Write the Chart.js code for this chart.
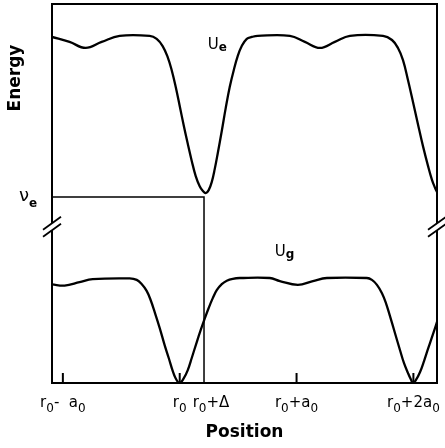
<!DOCTYPE html>
<html>
<head>
<meta charset="utf-8">
<script src="https://cdn.jsdelivr.net/npm/chart.js@4.4.1/dist/chart.umd.min.js"></script>
<style>
  html, body { margin: 0; padding: 0; background: #fff; }
  #wrap { width: 445px; height: 448px; }
</style>
</head>
<body>
<div id="wrap"><canvas id="chart"></canvas></div>
<script>
// position in units of a0, counted from r0; energy in arbitrary units (0-100)
const X_MIN = -1.093;
const X_MAX = 2.202;
const DELTA = 0.208;
const NU_E = 49.1;
const BREAK_Y = 41.2;

const tickValues = [-1, 0, DELTA, 1, 2];
const tickLabels = ['r_0-  a_0', 'r_0', 'r_0+Δ', 'r_0+a_0', 'r_0+2a_0'];

// excited state U_e
const ueX = [-1.093, -0.943, -0.805, -0.668, -0.514,
             -0.257, -0.197, -0.146, -0.103, -0.069, -0.034, 0.000, 0.034, 0.069, 0.103,
             0.137, 0.171, 0.197, 0.223, 0.248, 0.274, 0.300, 0.326, 0.360, 0.394,
             0.428, 0.463, 0.497, 0.531, 0.574, 0.617, 0.668,
             0.943, 1.071, 1.200, 1.328, 1.457, 1.740,
             1.817, 1.868, 1.911, 1.954, 1.997, 2.039, 2.082, 2.125, 2.159, 2.185, 2.202];
const ueY = [91.3, 90.0, 88.4, 90.0, 91.6,
             91.6, 90.8, 88.9, 86.0, 82.6, 78.1, 73.1, 68.0, 63.1, 58.6,
             54.6, 51.9, 50.7, 50.1, 50.9, 53.0, 56.5, 60.7, 66.5, 72.6,
             78.1, 82.6, 86.3, 88.9, 90.8, 91.3, 91.6,
             91.6, 90.0, 88.4, 90.0, 91.6, 91.6,
             90.5, 88.4, 85.2, 79.9, 74.1, 68.3, 62.5, 57.3, 53.6, 51.5, 50.4];

// ground state U_g
const ugX = [-1.093, -0.985, -0.857, -0.745, -0.428,
             -0.368, -0.326, -0.283, -0.249, -0.214, -0.171, -0.129, -0.094, -0.060, -0.034, 0,
             0.034, 0.069, 0.103, 0.146, 0.180, 0.214, 0.248, 0.283, 0.317, 0.360, 0.403, 0.454, 0.514,
             0.771, 0.857, 1.011, 1.140, 1.260, 1.602,
             1.645, 1.688, 1.731, 1.765, 1.799, 1.842, 1.885, 1.919, 1.954, 1.979, 1.997,
             2.022, 2.057, 2.091, 2.125, 2.159, 2.185, 2.202];
const ugY = [26.0, 25.7, 26.6, 27.4, 27.6,
             27.2, 26.1, 24.3, 21.9, 18.7, 14.5, 10.0, 6.6, 3.2, 1.2, 0,
             1.2, 3.4, 6.6, 10.8, 14.0, 17.0, 19.8, 22.4, 24.5, 26.1, 27.0, 27.5, 27.7,
             27.7, 26.9, 25.9, 26.9, 27.7, 27.7,
             27.2, 25.9, 23.7, 21.1, 17.7, 13.2, 8.7, 5.3, 2.6, 0.9, 0,
             0.8, 2.9, 5.8, 9.0, 12.1, 14.5, 16.1];

// nu_e level and the r0+Δ marker
const nuX = [X_MIN, DELTA, DELTA];
const nuY = [NU_E, NU_E, 0];

const FAMILY = '"DejaVu Sans", sans-serif';

const curveLabels = [
  { text: 'U_e', x: 0.24, y: 88.1 },
  { text: 'U_g', x: 0.814, y: 33.5 }
];

const pts = (xs, ys) => xs.map((x, i) => ({ x, y: ys[i] }));

// draws "a_b" style strings, '_' puts the next char in subscript
function drawSub(ctx, str, x, y, o) {
  const segs = [];
  for (let i = 0; i < str.length; i++) {
    if (str[i] === '_') { segs.push({ t: str[i + 1], sub: true }); i++; continue; }
    const last = segs[segs.length - 1];
    if (last && !last.sub) last.t += str[i];
    else segs.push({ t: str[i], sub: false });
  }
  const fontOf = s => s.sub
    ? `${o.subWeight || 'normal'} ${o.subSize}px ${FAMILY}`
    : `${o.weight || 'normal'} ${o.size}px ${FAMILY}`;
  let w = 0;
  segs.forEach(s => { ctx.font = fontOf(s); s.w = ctx.measureText(s.t).width; w += s.w; });
  let cx = o.align === 'center' ? x - w / 2 : x;
  ctx.textAlign = 'left';
  ctx.textBaseline = 'alphabetic';
  ctx.fillStyle = '#000';
  segs.forEach(s => {
    ctx.font = fontOf(s);
    ctx.fillText(s.t, cx, s.sub ? y + o.subShift : y);
    cx += s.w;
  });
}

function drawBreak(ctx, cx, cy) {
  const dx = 9, dy = 6.5, gap = 3.5;
  ctx.fillStyle = '#fff';
  ctx.beginPath();
  ctx.moveTo(cx - dx, cy + dy - gap);
  ctx.lineTo(cx + dx, cy - dy - gap);
  ctx.lineTo(cx + dx, cy - dy + gap);
  ctx.lineTo(cx - dx, cy + dy + gap);
  ctx.closePath();
  ctx.fill();
  ctx.strokeStyle = '#000';
  ctx.lineWidth = 1.8;
  [-gap, gap].forEach(g => {
    ctx.beginPath();
    ctx.moveTo(cx - dx, cy + dy + g);
    ctx.lineTo(cx + dx, cy - dy + g);
    ctx.stroke();
  });
}

const sketch = {
  id: 'sketch',
  afterDraw(chart) {
    const { ctx, chartArea: a, scales: { x, y } } = chart;
    ctx.save();

    // inner tick marks (not at r0+Δ, the vertical line is there)
    ctx.strokeStyle = '#000';
    ctx.lineWidth = 2;
    tickValues.forEach(v => {
      if (v === DELTA) return;
      const px = x.getPixelForValue(v);
      ctx.beginPath();
      ctx.moveTo(px, a.bottom);
      ctx.lineTo(px, a.bottom - 10);
      ctx.stroke();
    });

    // tick labels
    x.ticks.forEach((t, i) => {
      const shift = t.value === DELTA ? 7 : 0;
      drawSub(ctx, tickLabels[i], x.getPixelForValue(t.value) + shift, a.bottom + 24,
        { size: 15, subSize: 12, subShift: 5, align: 'center' });
    });

    // axis breaks
    const by = y.getPixelForValue(BREAK_Y);
    drawBreak(ctx, a.left, by);
    drawBreak(ctx, a.right, by);

    // nu_e level label
    drawSub(ctx, 'ν_e', 19, y.getPixelForValue(NU_E) + 4,
      { size: 18, subSize: 12, subWeight: 'bold', subShift: 6 });

    // curve labels
    curveLabels.forEach(l => {
      drawSub(ctx, l.text, x.getPixelForValue(l.x), y.getPixelForValue(l.y),
        { size: 15, subSize: 12, subWeight: 'bold', subShift: 2 });
    });

    // vertical axis title, sits near the top
    ctx.translate(16, 78);
    ctx.rotate(-Math.PI / 2);
    ctx.font = `bold 17px ${FAMILY}`;
    ctx.textAlign = 'center';
    ctx.textBaseline = 'middle';
    ctx.fillStyle = '#000';
    ctx.fillText('Energy', 0, 0);

    ctx.restore();
  }
};

const frame = { display: true, color: '#000', width: 2 };
const hidden = { display: false };

new Chart(document.getElementById('chart'), {
  type: 'line',
  data: {
    datasets: [
      {
        label: 'Ue', data: pts(ueX, ueY),
        borderColor: '#000', borderWidth: 2.3, pointRadius: 0,
        tension: 0.4, fill: false
      },
      {
        label: 'Ug', data: pts(ugX, ugY),
        borderColor: '#000', borderWidth: 2.3, pointRadius: 0,
        tension: 0.4, fill: false
      },
      {
        label: 'nu_e', data: pts(nuX, nuY),
        borderColor: '#000', borderWidth: 1.5, pointRadius: 0,
        tension: 0, fill: false
      }
    ]
  },
  options: {
    responsive: true,
    maintainAspectRatio: false,
    animation: false,
    events: [],
    layout: { padding: { left: 0, right: 8, top: 4, bottom: 0 } },
    plugins: { legend: hidden, tooltip: { enabled: false } },
    scales: {
      x: {
        type: 'linear', position: 'bottom', min: X_MIN, max: X_MAX,
        afterBuildTicks: s => { s.ticks = tickValues.map(v => ({ value: v })); },
        afterFit: s => { s.height = 65; },
        ticks: hidden,
        grid: { display: false, drawTicks: false },
        border: frame,
        title: {
          display: true, text: 'Position', color: '#000',
          font: { family: FAMILY, size: 17, weight: 'bold' },
          padding: { top: 0, bottom: 5 }
        }
      },
      y: {
        type: 'linear', position: 'left', min: 0, max: 100,
        afterFit: s => { s.width = 52; },
        ticks: hidden,
        grid: { display: false, drawTicks: false },
        border: frame
      },
      xTop: {
        type: 'linear', position: 'top', min: X_MIN, max: X_MAX,
        afterFit: s => { s.height = 0; },
        ticks: hidden,
        grid: { display: false, drawTicks: false },
        border: frame
      },
      yRight: {
        type: 'linear', position: 'right', min: 0, max: 100,
        afterFit: s => { s.width = 0; },
        ticks: hidden,
        grid: { display: false, drawTicks: false },
        border: frame
      }
    }
  },
  plugins: [sketch]
});
</script>
</body>
</html>
